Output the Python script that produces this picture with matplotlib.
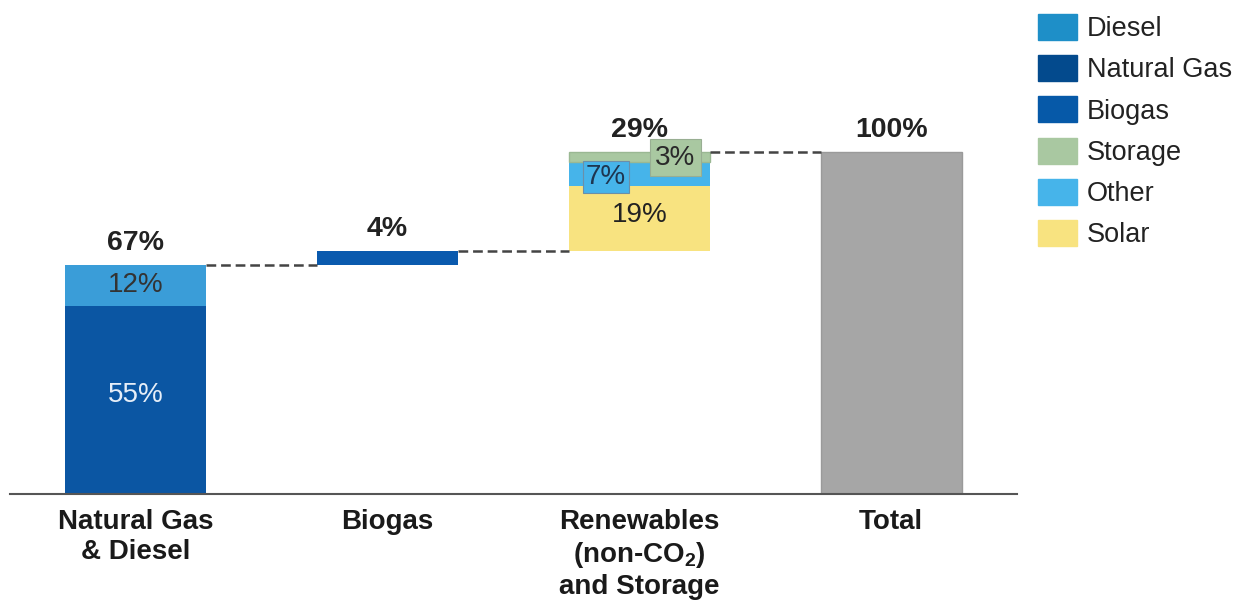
import matplotlib
matplotlib.use("Agg")
import matplotlib.pyplot as plt
from matplotlib.patches import Patch
import numpy as np

plt.rcParams["font.family"] = ["Liberation Sans", "DejaVu Sans"]
plt.rcParams["mathtext.fontset"] = "custom"
plt.rcParams["mathtext.rm"] = "Liberation Sans"
plt.rcParams["mathtext.bf"] = "Liberation Sans:bold"
plt.rcParams["lines.scale_dashes"] = False

# --- data -------------------------------------------------------------
categories = ["Natural Gas\n& Diesel", "Biogas",
              "Renewables\n(non-CO$_\\mathbf{2}$)\nand Storage", "Total"]
natural_gas = 55
diesel = 12
biogas = 4
solar = 19
other = 7
storage = 3
total = 100

col_diesel = "#3A9DD8"
col_gas = "#0B56A3"
col_biogas = "#0A5AAE"
col_storage = "#A9C8A1"
col_other = "#46B4EA"
col_solar = "#F8E380"
col_total = "#A6A6A6"

legend_names = ["Diesel", "Natural Gas", "Biogas", "Storage", "Other", "Solar"]
legend_colors = ["#1E8FC8", "#034A8D", "#0659A8", "#A9C8A1", "#46B4EA", "#F8E380"]

# --- figure -----------------------------------------------------------
W, H = 1238, 601
fig = plt.figure(figsize=(W / 100, H / 100), dpi=100)
ax_left, ax_right, ax_bottom = 10 / W, 1017 / W, (H - 494) / H
ax = fig.add_axes([ax_left, ax_bottom, ax_right - ax_left, 1 - ax_bottom])

x = np.arange(len(categories))
w = 0.56

# step 1: natural gas + diesel
ax.bar(x[0], natural_gas, w, bottom=0, color=col_gas, lw=0)
ax.bar(x[0], diesel, w, bottom=natural_gas, color=col_diesel, lw=0)
lvl1 = natural_gas + diesel

# step 2: biogas
ax.bar(x[1], biogas, w, bottom=lvl1, color=col_biogas, lw=0)
lvl2 = lvl1 + biogas

# step 3: renewables and storage
ax.bar(x[2], solar, w, bottom=lvl2, color=col_solar, lw=0)
ax.bar(x[2], other, w, bottom=lvl2 + solar, color=col_other, lw=0)
ax.bar(x[2], storage, w, bottom=lvl2 + solar + other,
       color=col_storage, edgecolor="#9AB893", lw=1)
lvl3 = lvl2 + solar + other + storage

# total
ax.bar(x[3], total, w, color=col_total, edgecolor="#9A9A9A", lw=1)

# connectors between steps
dash_kw = dict(color="#444444", lw=1.8, dashes=(7, 3.5), zorder=1)
for i, lvl in enumerate([lvl1, lvl2, lvl3]):
    ax.plot([x[i] + w / 2, x[i + 1] - w / 2], [lvl, lvl], **dash_kw)

# totals above each column
tops = [lvl1, lvl2, lvl3, total]
top_labels = [f"{lvl1}%", f"{biogas}%", f"{solar + other + storage}%", f"{total}%"]
for xi, t, lab in zip(x, tops, top_labels):
    ax.annotate(lab, (xi, t), xytext=(0, 16), textcoords="offset points",
                ha="center", va="center", fontsize=20.5, fontweight="bold",
                color="#222222", zorder=2)

# segment labels
seg_kw = dict(ha="center", va="center", fontsize=20)
ax.text(x[0], natural_gas / 2 + 1.5, f"{natural_gas}%", color="#E6EEF8", **seg_kw)
ax.text(x[0], natural_gas + diesel / 2, f"{diesel}%", color="#333333", **seg_kw)
ax.text(x[2], lvl2 + solar / 2 + 1, f"{solar}%", color="#222222", **seg_kw)
ax.annotate(f"{other}%", (x[2], lvl2 + solar + other / 2), xytext=(-24, -2),
            textcoords="offset points", color="#1E3550", ha="center", va="center",
            fontsize=20,
            bbox=dict(boxstyle="square,pad=0.1", fc=col_other, ec="#6B8FA8", lw=0.8))
ax.annotate(f"{storage}%", (x[2], lvl3), xytext=(26, -4),
            textcoords="offset points", color="#2A2A2A", ha="center", va="center",
            fontsize=20, zorder=3,
            bbox=dict(boxstyle="square,pad=0.2", fc=col_storage, ec="#98AE92", lw=0.8))

# axes styling
ax.set_xlim(-0.5, 3.5)
ax.set_ylim(0, 100 * 494 / (494 - 152))
for s in ["top", "right", "left"]:
    ax.spines[s].set_visible(False)
ax.spines["bottom"].set_color("#555555")
ax.spines["bottom"].set_linewidth(1.5)
ax.set_yticks([])
ax.set_xticks(x)
ax.set_xticklabels(categories, fontsize=20, fontweight="bold", color="#1A1A1A",
                   linespacing=1.2)
ax.tick_params(axis="x", length=0, pad=11)

# legend
handles = [Patch(facecolor=c, edgecolor=c) for c in legend_colors]
fig.legend(handles, legend_names, loc="upper left",
           bbox_to_anchor=(1038 / W, 1 - 14 / H), frameon=False,
           fontsize=19.5, handlelength=1.44, handleheight=1.1,
           handletextpad=0.37, labelspacing=0.48, borderpad=0,
           borderaxespad=0, labelcolor="#222222")

fig.savefig("out.png", dpi=100)
